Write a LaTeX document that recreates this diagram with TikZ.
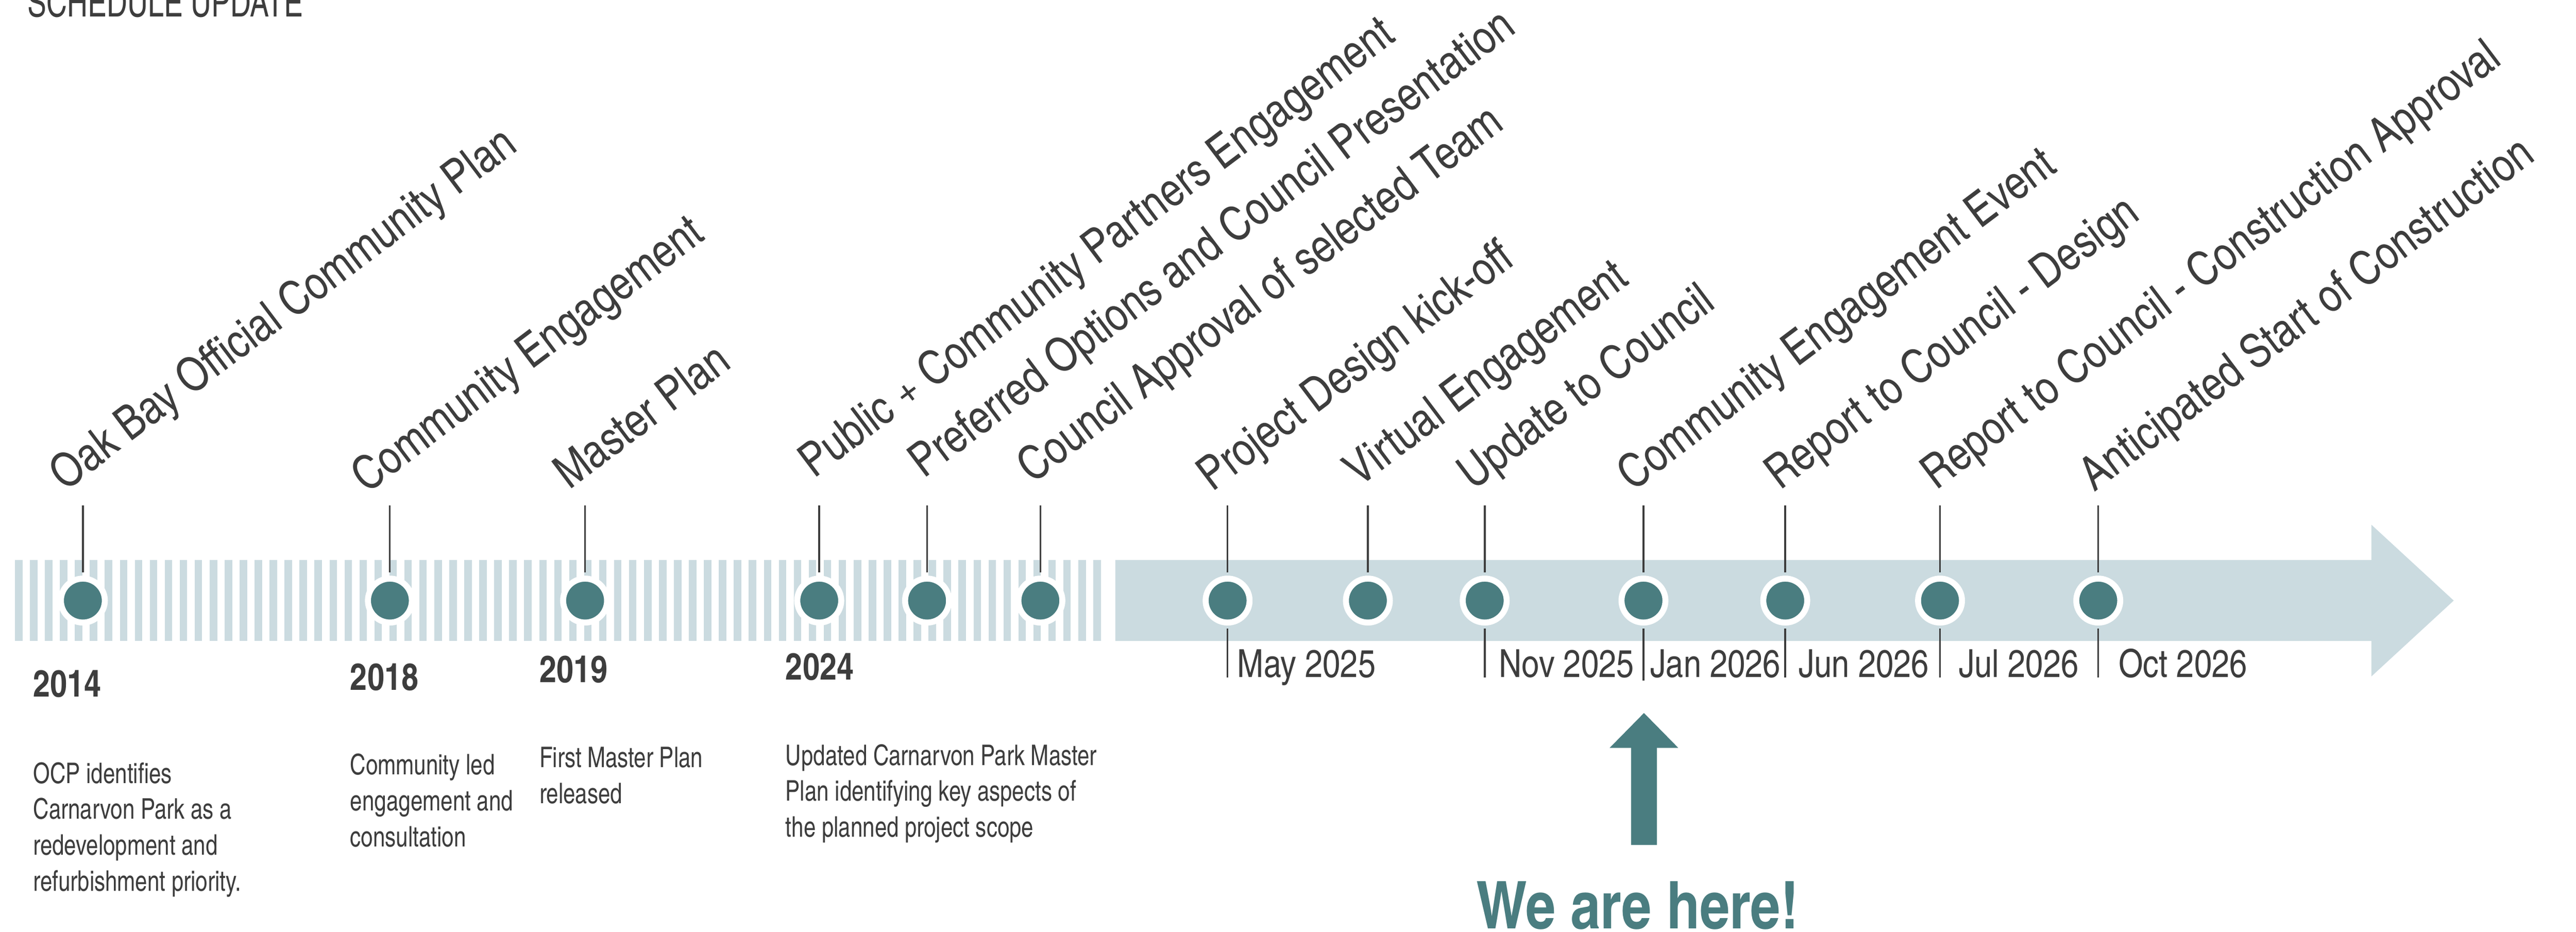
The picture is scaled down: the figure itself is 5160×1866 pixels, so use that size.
\documentclass[tikz,border=0pt]{standalone}
\usepackage{fontspec}
\setmainfont{texgyreheroscn}[Extension=.otf,UprightFont=*-regular,BoldFont=*-bold,ItalicFont=*-italic,BoldItalicFont=*-bolditalic]
\newfontfamily\narrowfont{texgyreheroscn}[Extension=.otf,UprightFont=*-regular,FakeStretch=0.93]
\newfontfamily\titlefont{texgyreheroscn}[Extension=.otf,UprightFont=*-regular,FakeStretch=0.87]
\usepackage{xcolor}
\usepackage{tikz}
\usetikzlibrary{arrows.meta}

\definecolor{barblue}{RGB}{203,219,224}
\definecolor{dotteal}{RGB}{74,125,128}
\definecolor{inkgrey}{RGB}{61,61,61}

\tikzset{
  milestone/.style={circle,fill=dotteal,draw=white,line width=1.2mm,minimum size=8.8mm,inner sep=0pt},
  stem/.style={draw=inkgrey,line width=0.35mm,shorten <=0.6mm},
  phase/.style={anchor=base west,rotate=37,inner sep=0pt,text=inkgrey,font=\fontsize{26.8}{30}\selectfont},
  when/.style={anchor=base west,inner sep=0pt,text=inkgrey,font=\fontsize{22}{26}\selectfont},
  year/.style={anchor=base west,inner sep=0pt,text=inkgrey,font=\bfseries\fontsize{21.3}{26}\selectfont},
  blurb/.style={anchor=north west,inner sep=0pt,text=inkgrey,align=left,font=\narrowfont\fontsize{16.2}{20.5}\selectfont},
}

\begin{document}
\begin{tikzpicture}[x=0.1mm,y=0.1mm,yscale=-1,xscale=1]
\useasboundingbox (0,0) rectangle (5160,1866);

%Shape: Striped bar (past)
\draw [barblue,line width=16.2mm,dash pattern=on 1.5mm off 1.5mm] (30,1203) -- (2210,1203) ;
%Shape: Arrow (upcoming)
\fill [barblue] (2234,1122) -- (4750,1122) -- (4750,1051) -- (4915,1203) -- (4750,1355) -- (4750,1284) -- (2234,1284) -- cycle ;

%Shape: Milestones
\node [milestone] (ocp) at (166,1203) {};
\node [milestone] (engage) at (781,1203) {};
\node [milestone] (master) at (1172,1203) {};
\node [milestone] (public) at (1641,1203) {};
\node [milestone] (options) at (1857,1203) {};
\node [milestone] (approval) at (2084,1203) {};
\node [milestone] (kickoff) at (2459,1203) {};
\node [milestone] (virtual) at (2740,1203) {};
\node [milestone] (update) at (2974,1203) {};
\node [milestone] (event) at (3292,1203) {};
\node [milestone] (design) at (3576,1203) {};
\node [milestone] (construct) at (3886,1203) {};
\node [milestone] (start) at (4203,1203) {};

%Straight Lines: stems up
\coordinate (ocp-up) at (166,1012);
\coordinate (engage-up) at (781,1012);
\coordinate (master-up) at (1172,1012);
\coordinate (public-up) at (1641,1012);
\coordinate (options-up) at (1857,1012);
\coordinate (approval-up) at (2084,1012);
\coordinate (kickoff-up) at (2459,1012);
\coordinate (virtual-up) at (2740,1012);
\coordinate (update-up) at (2974,1012);
\coordinate (event-up) at (3292,1012);
\coordinate (design-up) at (3576,1012);
\coordinate (construct-up) at (3886,1012);
\coordinate (start-up) at (4203,1012);
\draw [stem] (ocp.north) -- (ocp-up) ;
\draw [stem] (engage.north) -- (engage-up) ;
\draw [stem] (master.north) -- (master-up) ;
\draw [stem] (public.north) -- (public-up) ;
\draw [stem] (options.north) -- (options-up) ;
\draw [stem] (approval.north) -- (approval-up) ;
\draw [stem] (kickoff.north) -- (kickoff-up) ;
\draw [stem] (virtual.north) -- (virtual-up) ;
\draw [stem] (update.north) -- (update-up) ;
\draw [stem] (event.north) -- (event-up) ;
\draw [stem] (design.north) -- (design-up) ;
\draw [stem] (construct.north) -- (construct-up) ;
\draw [stem] (start.north) -- (start-up) ;

%Straight Lines: ticks down
\coordinate (kickoff-down) at (2459,1357);
\coordinate (update-down) at (2974,1357);
\coordinate (event-down) at (3292,1363);
\coordinate (design-down) at (3576,1357);
\coordinate (construct-down) at (3886,1357);
\coordinate (start-down) at (4203,1357);
\draw [stem] (kickoff.south) -- (kickoff-down) ;
\draw [stem] (update.south) -- (update-down) ;
\draw [stem] (event.south) -- (event-down) ;
\draw [stem] (design.south) -- (design-down) ;
\draw [stem] (construct.south) -- (construct-down) ;
\draw [stem] (start.south) -- (start-down) ;

%Straight Lines: we are here
\coordinate (here-tail) at (3293,1692);
\coordinate (here-tip) at (3293,1428);
\draw [dotteal,line width=5.2mm,-{Triangle[width=13.3mm,length=7mm]}] (here-tail) -- (here-tip) ;

% Text Node
\draw (55,34) node (title) [anchor=base west][inner sep=0pt] [text=inkgrey,font=\titlefont\fontsize{22.8}{26}\selectfont] {SCHEDULE UPDATE};
% Text Node
\draw (2956,1860) node (here) [anchor=base west][inner sep=0pt] [text=dotteal,font=\bfseries\fontsize{37.5}{42}\selectfont] {We are here!};

% Text Node: phases
\draw (130,985) node (ocp-txt) [phase] {Oak Bay Official Community Plan};
\draw (735,990) node (engage-txt) [phase] {Community Engagement};
\draw (1140,982) node (master-txt) [phase] {Master Plan};
\draw (1630,960) node (public-txt) [phase] {Public + Community Partners Engagement};
\draw (1850,960) node (options-txt) [phase] {Preferred Options and Council Presentation};
\draw (2068,970) node (approval-txt) [phase] {Council Approval of selected Team};
\draw (2428,987) node (kickoff-txt) [phase] {Project Design kick-off};
\draw (2722,977) node (virtual-txt) [phase] {Virtual Engagement};
\draw (2950,983) node (update-txt) [phase] {Update to Council};
\draw (3270,985) node (event-txt) [phase] {Community Engagement Event};
\draw (3565,983) node (design-txt) [phase] {Report to Council - Design};
\draw (3878,983) node (construct-txt) [phase] {Report to Council - Construction Approval};
\draw (4195,987) node (start-txt) [phase] {Anticipated Start of Construction};

% Text Node: dates
\draw (2478,1357) node (may25) [when] {May 2025};
\draw (3002,1357) node (nov25) [when] {Nov 2025};
\draw (3305,1357) node (jan26) [when] {Jan 2026};
\draw (3602,1357) node (jun26) [when] {Jun 2026};
\draw (3923,1357) node (jul26) [when] {Jul 2026};
\draw (4243,1357) node (oct26) [when] {Oct 2026};

% Text Node: years
\draw (66,1396) node (y2014) [year] {2014};
\draw (701,1382) node (y2018) [year] {2018};
\draw (1080,1367) node (y2019) [year] {2019};
\draw (1573,1362) node (y2024) [year] {2024};

% Text Node: notes
\draw (66,1526) node (n2014) [blurb] {OCP identifies\\Carnarvon Park as a\\redevelopment and\\refurbishment priority.};
\draw (701,1509) node (n2018) [blurb] {Community led\\engagement and\\consultation};
\draw (1080,1496) node (n2019) [blurb] {First Master Plan\\released};
\draw (1573,1490) node (n2024) [blurb] {Updated Carnarvon Park Master\\Plan identifying key aspects of\\the planned project scope};
\end{tikzpicture}
\end{document}
